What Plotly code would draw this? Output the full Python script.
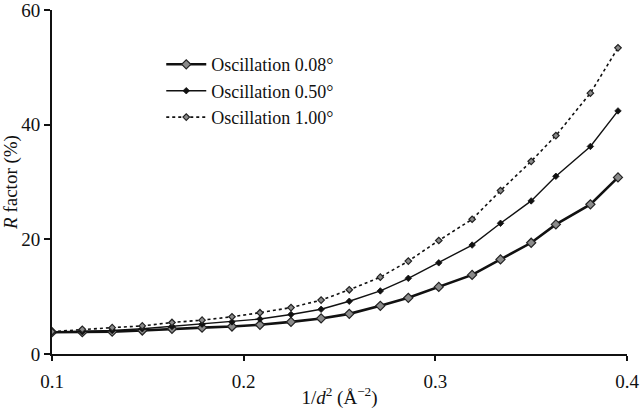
import plotly.graph_objects as go

inv_d2 = [0.1000, 0.1158, 0.1314, 0.1471, 0.1626, 0.1783, 0.1939, 0.2085, 0.2247, 0.2404,
          0.2551, 0.2713, 0.2859, 0.3018, 0.3192, 0.3340, 0.3500, 0.3629, 0.3809, 0.3953]
osc_008 = [3.8, 3.8, 3.9, 4.1, 4.4, 4.6, 4.8, 5.1, 5.6, 6.2,
           7.0, 8.4, 9.8, 11.7, 13.8, 16.5, 19.4, 22.6, 26.1, 30.8]
osc_050 = [3.8, 3.9, 4.1, 4.4, 4.8, 5.2, 5.6, 6.1, 6.9, 7.8,
           9.2, 11.0, 13.2, 15.9, 19.0, 22.8, 26.7, 31.0, 36.2, 42.4]
osc_100 = [3.9, 4.3, 4.6, 4.9, 5.5, 5.9, 6.5, 7.2, 8.1, 9.4,
           11.2, 13.4, 16.2, 19.8, 23.5, 28.5, 33.6, 38.1, 45.5, 53.4]
names = ["Oscillation 0.08°", "Oscillation 0.50°", "Oscillation 1.00°"]
x_ticks = [0.1, 0.2, 0.3, 0.4]
y_ticks = [0, 20, 40, 60]

FONT = "Liberation Serif, Times New Roman, serif"
FS = 19

fig = go.Figure()
fig.add_trace(go.Scatter(
    x=inv_d2, y=osc_008, name=names[0], mode="lines+markers",
    line=dict(color="#111111", width=2.6),
    marker=dict(symbol="diamond", size=7, color="#8a8a8a", line=dict(color="#222222", width=1.2))))
fig.add_trace(go.Scatter(
    x=inv_d2, y=osc_050, name=names[1], mode="lines+markers",
    line=dict(color="#111111", width=1.4),
    marker=dict(symbol="diamond", size=5, color="#111111", line=dict(color="#111111", width=0.8))))
fig.add_trace(go.Scatter(
    x=inv_d2, y=osc_100, name=names[2], mode="lines+markers",
    line=dict(color="#111111", width=1.6, dash="dot"),
    marker=dict(symbol="diamond", size=5, color="#8a8a8a", line=dict(color="#222222", width=1.2))))

fig.update_layout(
    width=640, height=410,
    margin=dict(l=52, r=13, t=10, b=56),
    paper_bgcolor="white", plot_bgcolor="white",
    font=dict(family=FONT, size=FS, color="#111111"),
    showlegend=True,
    legend=dict(x=0.19, y=0.895, xanchor="left", yanchor="top",
                bgcolor="rgba(0,0,0,0)", font=dict(family=FONT, size=18),
                itemwidth=40, tracegroupgap=0),
    xaxis=dict(range=[0.1, 0.4], tickvals=x_ticks, ticktext=[str(v) for v in x_ticks],
               showgrid=False, zeroline=False, showline=True, linecolor="#111111", linewidth=2,
               ticks="outside", ticklen=5, tickwidth=2, tickcolor="#111111",
               ticklabelstandoff=4, ticklabeloverflow="allow", automargin=False,
               tickfont=dict(family=FONT, size=FS),
               title=dict(text="1/<i>d</i><sup>2</sup> (Å<sup>−2</sup>)", font=dict(family=FONT, size=FS), standoff=0)),
    yaxis=dict(range=[0, 60], tickvals=y_ticks,
               showgrid=False, zeroline=False, showline=True, linecolor="#111111", linewidth=2,
               ticks="outside", ticklen=6, tickwidth=2, tickcolor="#111111",
               ticklabeloverflow="allow", automargin=False,
               tickfont=dict(family=FONT, size=FS),
               title=dict(text="<i>R</i> factor (%)", font=dict(family=FONT, size=FS), standoff=3)),
)

fig.write_html("out.html")
